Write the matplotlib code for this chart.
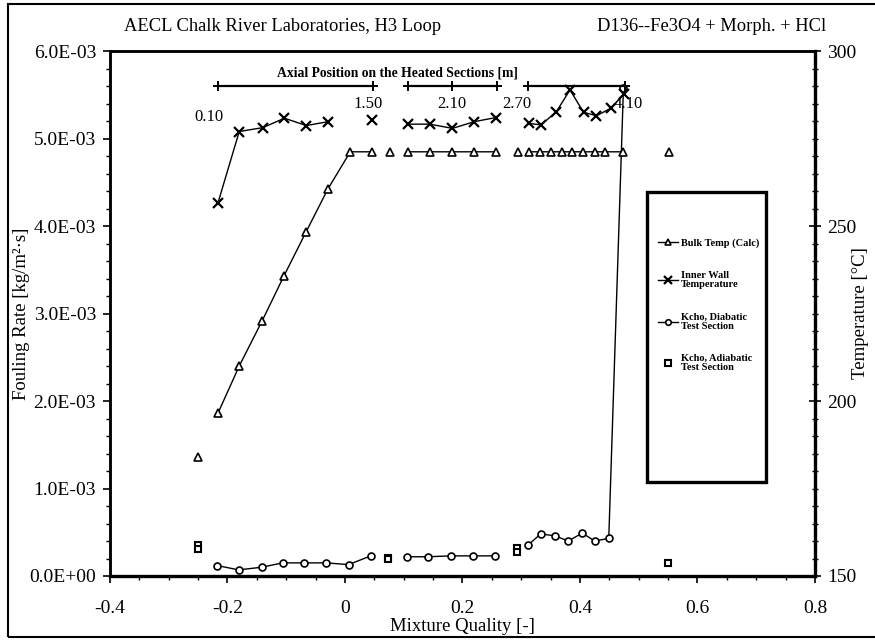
import numpy as np
import matplotlib.pyplot as plt
from matplotlib.patches import Rectangle
from matplotlib.ticker import MultipleLocator, FormatStrFormatter

plt.rcParams['font.family'] = ['Liberation Serif', 'DejaVu Serif']

nan = np.nan

# Bulk temperature (calc), degC -- NaN breaks the line between sections
xBulk = [-0.25, nan,
         -0.216, -0.180, -0.141, -0.104, -0.066, -0.029, 0.009, 0.046, nan,
         0.076, nan,
         0.107, 0.144, 0.183, 0.220, 0.257, nan,
         0.295, nan,
         0.313, 0.332, 0.350, 0.369, 0.387, 0.405, 0.425, 0.442, 0.474, nan,
         0.552]
tBulk = [184.0, nan,
         196.6, 210.0, 222.9, 235.7, 248.4, 260.6, 271.2, 271.2, nan,
         271.2, nan,
         271.2, 271.2, 271.2, 271.2, 271.2, nan,
         271.2, nan,
         271.2, 271.2, 271.2, 271.2, 271.2, 271.2, 271.2, 271.2, 271.2, nan,
         271.2]

# Inner wall temperature, degC
xWall = [-0.216, -0.180, -0.140, -0.103, -0.066, -0.029, nan,
         0.046, nan,
         0.107, 0.144, 0.183, 0.220, 0.257, nan,
         0.313, 0.334, 0.360, 0.383, 0.406, 0.428, 0.452, 0.475]
tWall = [256.7, 277.0, 278.1, 280.8, 278.7, 279.8, nan,
         280.3, nan,
         279.1, 279.1, 277.9, 279.8, 281.0, nan,
         279.3, 278.9, 282.7, 288.9, 282.5, 281.5, 283.6, 287.7]

# Kcho, diabatic test section, kg/m2s
xDiab = [-0.218, -0.181, -0.142, -0.106, -0.069, -0.032, 0.006, 0.044, nan,
         0.106, 0.141, 0.181, 0.218, 0.255, nan,
         0.311, 0.333, 0.357, 0.380, 0.404, 0.425, 0.449, 0.474]
kDiab = [0.12e-3, 0.07e-3, 0.10e-3, 0.15e-3, 0.15e-3, 0.15e-3, 0.13e-3, 0.23e-3, nan,
         0.22e-3, 0.22e-3, 0.23e-3, 0.23e-3, 0.23e-3, nan,
         0.35e-3, 0.48e-3, 0.46e-3, 0.40e-3, 0.49e-3, 0.40e-3, 0.43e-3, 5.58e-3]

# Kcho, adiabatic test section, kg/m2s
xAdiab = [-0.25, -0.25, 0.074, 0.074, 0.292, 0.292, 0.550]
kAdiab = [0.35e-3, 0.31e-3, 0.21e-3, 0.20e-3, 0.32e-3, 0.27e-3, 0.145e-3]

# Axial position bars on the heated sections
barSections = [[-0.216, 0.048], [0.107, 0.183, 0.259], [0.312, 0.476]]
barLevel = 5.6e-3
posLabels = ['0.10', '1.50', '2.10', '2.70', '4.10']
posX = [-0.232, 0.039, 0.181, 0.293, 0.482]
posY = [5.25e-3, 5.40e-3, 5.40e-3, 5.40e-3, 5.40e-3]

fig = plt.figure(figsize=(8.75, 6.4), dpi=100)
ax = fig.add_axes([0.1257, 0.1, 0.8057, 0.8203])
ax2 = ax.twinx()

ax.plot(xDiab, kDiab, '-', color='black', lw=1.0, marker='o', ms=5,
        mfc='white', mec='black', mew=1.2, label='Kcho, Diabatic\nTest Section')
ax.plot(xAdiab, kAdiab, ls='none', marker='s', ms=5, mfc='white', mec='black',
        mew=1.5, label='Kcho, Adiabatic\nTest Section')
ax2.plot(xBulk, tBulk, '-', color='black', lw=1.0, marker='^', ms=5.5,
         mfc='white', mec='black', mew=1.2, label='Bulk Temp (Calc)')
ax2.plot(xWall, tWall, '-', color='black', lw=1.0, marker='x', ms=6.5,
         mec='black', mew=1.6, label='Inner Wall\nTemperature')

for sec in barSections:
    ax.plot(sec, [barLevel] * len(sec), '-', color='black', lw=1.6,
            marker='+', ms=7, mew=1.4)
ax.text(0.089, 5.75e-3, 'Axial Position on the Heated Sections [m]',
        ha='center', va='center', fontsize=9.8, fontweight='bold')
for lab, px, py in zip(posLabels, posX, posY):
    ax.text(px, py, lab, ha='center', va='center', fontsize=12)

ax.set_xlim(-0.4, 0.8)
ax.set_ylim(0, 6e-3)
ax2.set_ylim(150, 300)

ax.xaxis.set_major_locator(MultipleLocator(0.2))
ax.xaxis.set_minor_locator(MultipleLocator(0.05))
ax.xaxis.set_major_formatter(FormatStrFormatter('%g'))
ax.yaxis.set_major_locator(MultipleLocator(1e-3))
ax.yaxis.set_minor_locator(MultipleLocator(0.2e-3))
ax.yaxis.set_major_formatter(plt.FuncFormatter(lambda v, p: '%.1E' % v))
ax2.yaxis.set_major_locator(MultipleLocator(50))
ax2.yaxis.set_minor_locator(MultipleLocator(5))

ax.tick_params(axis='x', which='major', direction='out', length=5,
               width=1.2, labelsize=14, pad=12)
ax.tick_params(axis='y', which='major', direction='out', length=5,
               width=1.2, labelsize=14, pad=5)
ax.tick_params(axis='both', which='minor', direction='out', length=3, width=1.0)
ax2.tick_params(axis='y', which='major', direction='inout', length=8,
                width=1.2, labelsize=14, pad=5)
ax2.tick_params(axis='y', which='minor', direction='inout', length=5, width=1.0)

for a in (ax, ax2):
    for s in a.spines.values():
        s.set_linewidth(1.8)
ax2.spines['right'].set_linewidth(2.4)
ax.spines['bottom'].set_linewidth(2.4)

ax.set_xlabel('Mixture Quality [-]', fontsize=13.5)
ax.set_ylabel('Fouling Rate [kg/m²·s]', fontsize=13.5)
ax2.set_ylabel('Temperature [°C]', fontsize=13.5)
ax.xaxis.set_label_coords(0.5, -0.097)
ax.yaxis.set_label_coords(-0.126, 0.5)
ax2.yaxis.set_label_coords(1.065, 0.5)
ax.xaxis.label.set_va('center')
ax.yaxis.label.set_va('center')
ax2.yaxis.label.set_va('center')

fig.text(0.142, 0.959, 'AECL Chalk River Laboratories, H3 Loop',
         fontsize=13.3, ha='left', va='center')
fig.text(0.944, 0.959, 'D136--Fe3O4 + Morph. + HCl',
         fontsize=13.3, ha='right', va='center')

# legend box, drawn separately so it can be taller than its entries
fig.patches.append(Rectangle((0.739, 0.247), 0.136, 0.453, transform=fig.transFigure,
                             fill=False, lw=2.4, ec='black'))
h1, l1 = ax2.get_legend_handles_labels()
h2, l2 = ax.get_legend_handles_labels()
leg = fig.legend(h1 + h2, l1 + l2, loc='upper left',
                 bbox_to_anchor=(0.746, 0.636), frameon=False,
                 prop={'size': 7.5, 'weight': 'bold'}, handlelength=1.9,
                 handletextpad=0.3, labelspacing=2.25, borderpad=0,
                 markerscale=0.8)
for t in leg.get_texts():
    t.set_linespacing(1.0)

# outer frame around the whole chart
fig.patches.append(Rectangle((0.009, 0.004), 1.1, 0.99, transform=fig.transFigure,
                             fill=False, lw=1.5, ec='black'))

fig.savefig('out.png', dpi=100)
